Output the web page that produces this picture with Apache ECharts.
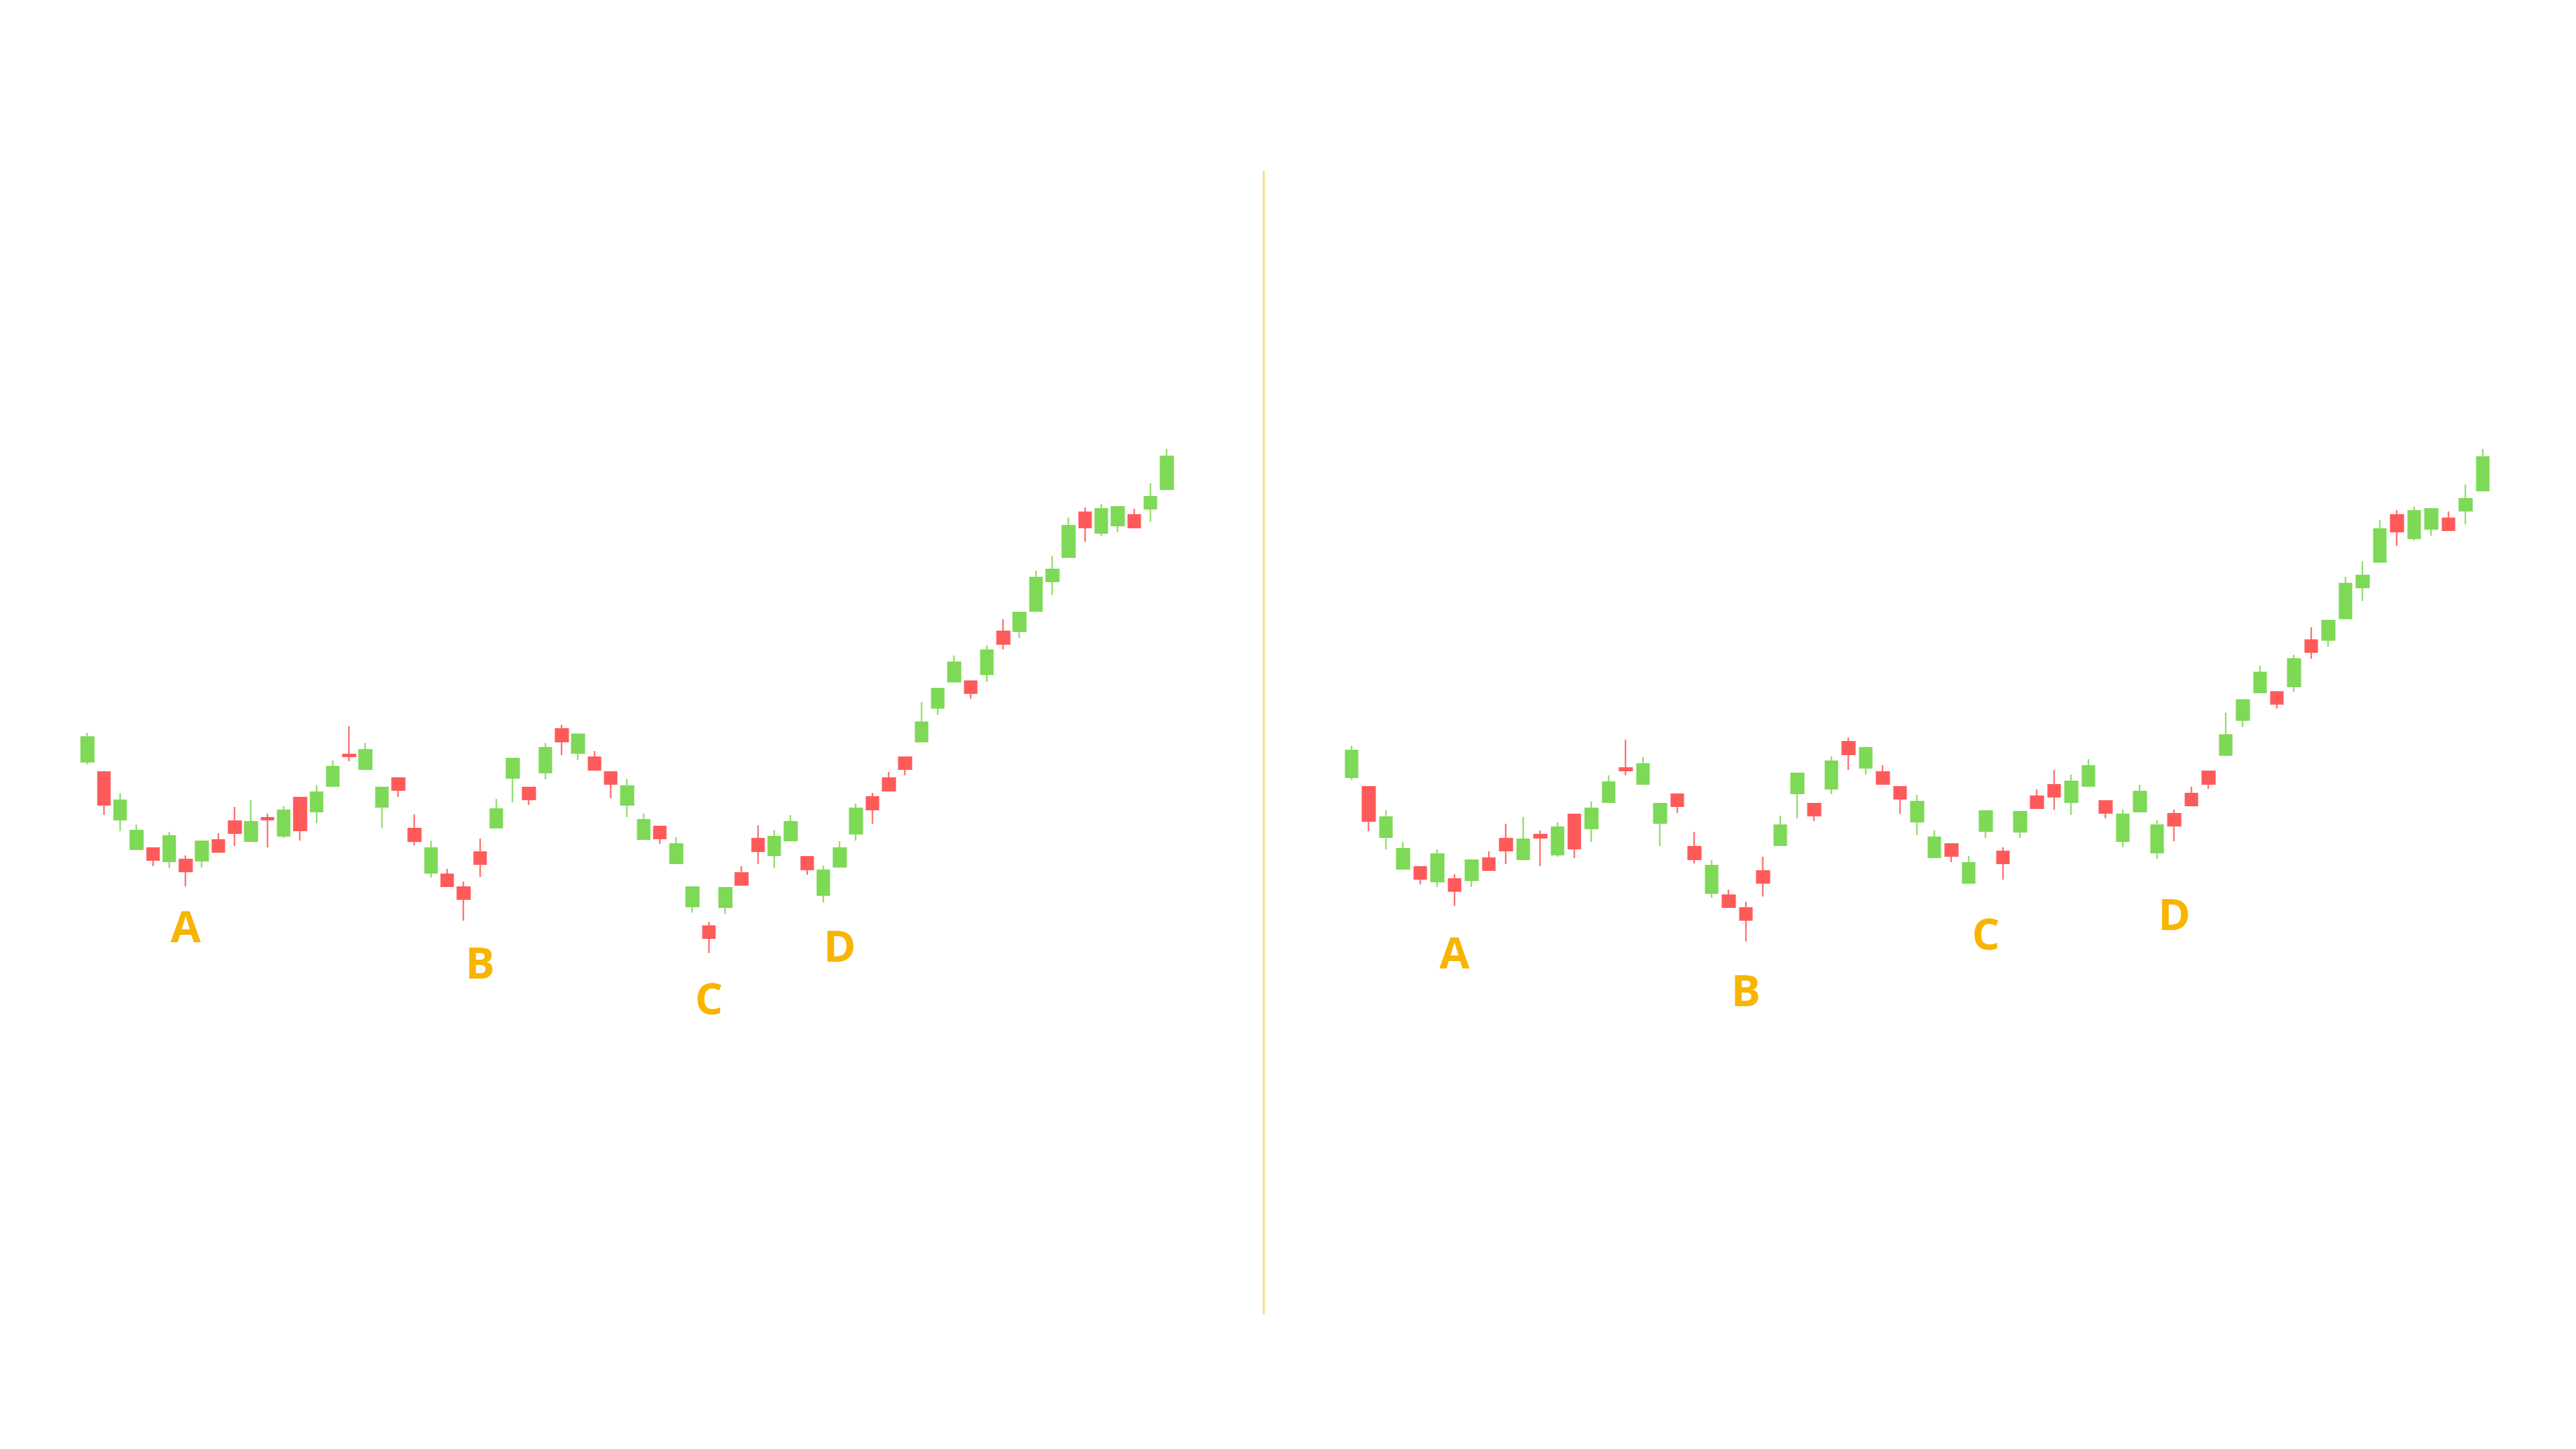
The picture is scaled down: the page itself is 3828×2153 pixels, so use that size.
<!DOCTYPE html>
<html>
<head>
<meta charset="utf-8">
<title>ABCD</title>
<script src="https://cdn.jsdelivr.net/npm/echarts@6/dist/echarts.min.js"></script>
<style>
  html, body { margin: 0; padding: 0; background: #fff; }
  #main { width: 3828px; height: 2153px; }
</style>
</head>
<body>
<div id="main"></div>
<script>
// [open, close, low, high]
var leftCandles = [
  [46.8, 50.5, 46.4, 51.1], [45.3, 40.4, 38.9, 45.3], [38.2, 41.1, 36.5, 42.1], [33.8, 36.6, 33.8, 37.5],
  [34.0, 32.2, 31.3, 34.0], [32.0, 35.8, 31.0, 36.4], [32.3, 30.5, 28.3, 32.9], [32.1, 35.0, 31.1, 35.0],
  [35.2, 33.4, 33.4, 36.2], [38.0, 36.2, 34.3, 40.1], [35.0, 37.9, 35.0, 41.1], [38.5, 38.2, 34.1, 39.1],
  [35.8, 39.6, 35.5, 40.2], [41.5, 36.6, 35.1, 41.5], [39.4, 42.3, 37.7, 43.3], [43.2, 46.1, 43.2, 47.0],
  [47.9, 47.6, 46.9, 52.1], [45.7, 48.6, 45.7, 49.6], [40.1, 43.0, 37.0, 43.0], [44.4, 42.6, 41.6, 44.4],
  [36.9, 35.0, 34.4, 39.0], [30.3, 34.0, 29.6, 35.1], [30.1, 28.3, 28.3, 30.9], [28.2, 26.4, 23.2, 29.0],
  [33.4, 31.6, 29.7, 35.4], [37.0, 39.8, 37.0, 41.3], [44.4, 47.3, 40.8, 47.3], [43.0, 41.2, 40.4, 43.0],
  [45.2, 48.9, 44.2, 49.6], [51.7, 49.8, 47.8, 52.3], [48.1, 50.9, 47.1, 50.9], [47.5, 45.6, 45.6, 48.4],
  [45.3, 43.5, 41.4, 45.3], [40.4, 43.2, 38.6, 44.2], [35.3, 38.2, 35.3, 39.1], [37.2, 35.4, 34.6, 37.2],
  [31.7, 34.6, 31.7, 35.6], [25.3, 28.2, 24.4, 28.2], [22.4, 20.6, 18.4, 23.0], [25.2, 28.1, 24.2, 28.1],
  [30.3, 28.5, 28.5, 31.3], [35.4, 33.5, 31.6, 37.4], [32.9, 35.7, 31.0, 36.7], [35.1, 37.9, 35.1, 38.9],
  [32.7, 30.8, 30.0, 32.7], [27.0, 30.7, 25.9, 31.4], [31.2, 34.0, 31.2, 35.0], [36.1, 39.9, 35.1, 40.6],
  [41.6, 39.7, 37.6, 42.2], [44.4, 42.5, 42.5, 45.3], [47.5, 45.7, 44.8, 47.5], [49.8, 52.7, 49.8, 55.7],
  [54.8, 57.7, 53.8, 57.7], [58.7, 61.6, 58.7, 62.6], [58.8, 57.0, 56.2, 58.8], [59.8, 63.4, 58.7, 64.1],
  [66.2, 64.3, 63.5, 68.0], [66.2, 69.0, 65.2, 69.0], [69.2, 74.2, 69.2, 75.2], [73.6, 75.4, 71.6, 77.4],
  [77.2, 81.9, 77.2, 83.1], [83.9, 81.6, 79.5, 84.6], [80.8, 84.4, 80.3, 85.1], [81.9, 84.7, 80.9, 84.7],
  [83.5, 81.6, 81.6, 84.4], [84.4, 86.2, 82.5, 88.2], [87.3, 92.2, 87.3, 93.3]
];

var rightCandles = [
  [44.5, 48.5, 44.1, 49.2], [43.1, 38.0, 36.5, 43.1], [35.6, 38.6, 33.8, 39.6], [30.9, 33.9, 30.9, 34.9],
  [31.2, 29.4, 28.6, 31.2], [29.0, 33.1, 28.2, 33.8], [29.4, 27.6, 25.4, 30.1], [29.2, 32.2, 28.2, 32.2],
  [32.5, 30.7, 30.7, 33.5], [35.4, 33.6, 31.6, 37.6], [32.3, 35.3, 32.3, 38.6], [36.0, 35.5, 31.3, 36.6],
  [33.0, 37.1, 32.7, 37.8], [39.0, 33.9, 32.5, 39.0], [36.9, 39.9, 34.9, 40.9], [40.8, 43.8, 40.8, 44.8],
  [45.9, 45.5, 44.8, 50.1], [43.5, 46.5, 43.5, 47.5], [37.7, 40.6, 34.3, 40.6], [42.0, 40.2, 39.2, 42.0],
  [34.2, 32.3, 31.7, 36.4], [27.3, 31.4, 26.6, 32.2], [27.0, 25.2, 25.2, 27.8], [25.1, 23.3, 20.1, 26.0],
  [30.6, 28.8, 26.8, 32.7], [34.4, 37.4, 34.4, 38.8], [42.1, 45.1, 38.4, 45.1], [40.6, 38.8, 38.0, 40.6],
  [42.8, 46.9, 42.0, 47.6], [49.8, 47.9, 45.6, 50.4], [45.9, 48.9, 44.9, 48.9], [45.3, 43.5, 43.5, 46.3],
  [43.1, 41.3, 39.1, 43.1], [37.9, 40.9, 35.9, 41.9], [32.6, 35.6, 32.6, 36.6], [34.6, 32.8, 31.9, 34.6],
  [28.8, 31.8, 28.8, 32.8], [36.5, 39.5, 35.5, 39.5], [33.5, 31.7, 29.3, 34.1], [36.4, 39.4, 35.5, 39.4],
  [41.7, 39.9, 39.9, 42.7], [43.4, 41.6, 39.7, 45.6], [40.8, 43.9, 38.9, 44.9], [43.2, 46.2, 43.2, 47.2],
  [41.0, 39.2, 38.4, 41.0], [35.0, 39.0, 34.1, 39.7], [39.4, 42.4, 39.4, 43.4], [33.3, 37.4, 32.4, 38.1],
  [39.1, 37.3, 35.0, 39.7], [42.1, 40.3, 40.3, 43.1], [45.4, 43.5, 42.8, 45.4], [47.8, 50.8, 47.8, 54.1],
  [53.0, 56.0, 52.0, 56.0], [57.1, 60.1, 57.1, 61.1], [57.2, 55.4, 54.7, 57.2], [58.0, 62.1, 57.2, 62.7],
  [64.9, 63.1, 62.1, 66.8], [64.9, 67.8, 63.9, 67.8], [68.1, 73.3, 68.1, 74.3], [72.7, 74.5, 70.7, 76.6],
  [76.5, 81.4, 76.5, 82.7], [83.5, 81.0, 78.9, 84.2], [80.0, 84.1, 79.7, 84.7], [81.4, 84.4, 80.4, 84.4],
  [83.0, 81.2, 81.2, 84.0], [84.1, 85.9, 82.1, 88.0], [87.1, 92.1, 87.1, 93.3]
];

// point labels: [name, candle index, price]
var leftPoints = [['A', 6, 21.9], ['B', 24, 16.5], ['C', 38, 11.2], ['D', 46, 19.0]];
var rightPoints = [['A', 6, 18.0], ['B', 23, 12.4], ['C', 37, 20.8], ['D', 48, 23.7]];

var days = leftCandles.map(function (d, i) { return 'd' + (i + 1); });

var up = '#7ED957';
var down = '#FF5A5A';
var gold = '#F7B500';

var myChart = echarts.init(document.getElementById('main'));

function points(list) {
  return list.map(function (p) {
    return { name: p[0], coord: [p[1], p[2]] };
  });
}

function candle(idx, data, pts) {
  return {
    type: 'candlestick',
    xAxisIndex: idx,
    yAxisIndex: idx,
    data: data,
    barWidth: 19,
    itemStyle: {
      color: up,
      color0: down,
      borderColor: up,
      borderColor0: down,
      borderWidth: 2
    },
    markPoint: {
      symbol: 'rect',
      symbolSize: 1,
      itemStyle: { color: 'transparent' },
      label: {
        show: true,
        position: 'inside',
        formatter: '{b}',
        color: gold,
        fontSize: 65,
        fontWeight: 'bold',
        fontFamily: 'Open Sans'
      },
      data: points(pts)
    }
  };
}

var option = {
  animation: false,
  backgroundColor: '#fff',
  grid: [
    { left: 118, right: 2082, top: 200, bottom: 553 },
    { left: 1996, right: 126, top: 200, bottom: 553 }
  ],
  xAxis: [
    { type: 'category', gridIndex: 0, data: days, show: false },
    { type: 'category', gridIndex: 1, data: days, show: false }
  ],
  yAxis: [
    { type: 'value', gridIndex: 0, min: 0, max: 140, show: false },
    { type: 'value', gridIndex: 1, min: 0, max: 140, show: false }
  ],
  // divider between the two panels
  graphic: [{
    type: 'line',
    shape: { x1: 1878, y1: 254, x2: 1878, y2: 1953 },
    style: { stroke: 'rgba(247,181,0,0.5)', lineWidth: 3 }
  }],
  series: [
    candle(0, leftCandles, leftPoints),
    candle(1, rightCandles, rightPoints)
  ]
};

myChart.setOption(option);
</script>
</body>
</html>
